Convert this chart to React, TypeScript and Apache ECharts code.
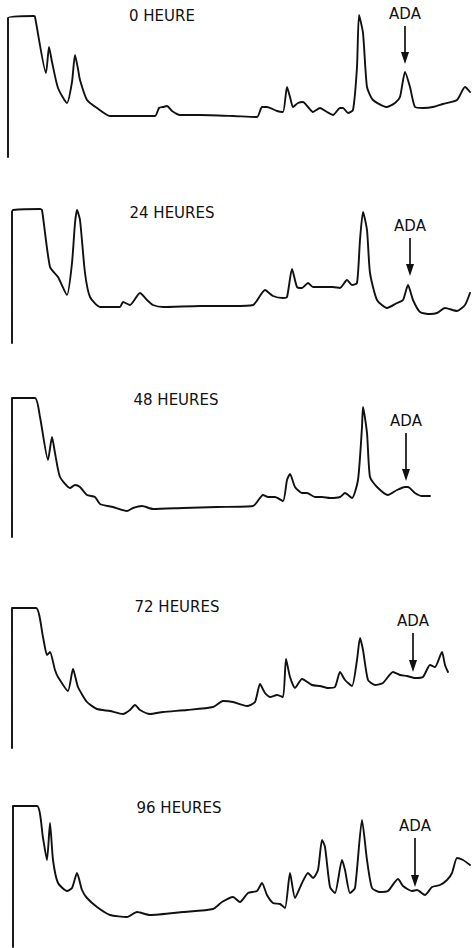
import { useEffect, useRef } from "react";
import * as echarts from "echarts";

type Pt = [number, number];

// Panel labels (sampling time)
const panelLabels = ["0 HEURE", "24 HEURES", "48 HEURES", "72 HEURES", "96 HEURES"];

// Chromatogram traces: [retention (arbitrary units), detector signal (arbitrary units)]
const trace0: Pt[] = [
  [8, 0], [8, 139], [34, 141], [35, 140], [46, 84], [49, 110], [52, 95], [58, 69], [67, 54],
  [72, 75], [75, 102], [78, 88], [80, 77], [87, 57], [97, 49], [110, 41], [123, 41], [155, 41],
  [159, 49], [163, 50], [167, 51], [172, 46], [180, 42], [200, 42], [233, 41], [257, 40], [262, 50],
  [267, 50], [277, 46], [283, 45], [287, 70], [290, 60], [293, 50], [298, 54], [303, 55],
  [308, 50], [313, 45], [320, 49], [327, 45], [333, 42], [340, 49], [343, 49], [348, 44],
  [353, 47], [357, 90], [359, 142], [363, 124], [367, 70], [373, 57], [387, 50], [395, 54],
  [400, 60], [405, 85], [410, 70], [415, 50], [423, 49], [433, 50], [443, 53], [457, 57],
  [465, 70], [470, 65],
];
const trace24: Pt[] = [
  [12, 0], [12, 131], [13, 133], [40, 134], [42, 133], [50, 76], [58, 66], [67, 48], [72, 80],
  [75, 120], [77, 133], [80, 123], [85, 70], [90, 46], [100, 36], [110, 36], [120, 36],
  [123, 41], [130, 38], [140, 50], [147, 43], [153, 38], [163, 36], [200, 37], [233, 37],
  [253, 38], [265, 53], [273, 47], [283, 45], [287, 46], [292, 74], [297, 56], [302, 55],
  [308, 60], [313, 56], [323, 56], [333, 56], [340, 55], [347, 63], [352, 58], [357, 60],
  [360, 103], [363, 131], [367, 113], [370, 70], [377, 43], [387, 35], [397, 40], [403, 43],
  [408, 58], [413, 43], [420, 31], [430, 29], [437, 30], [445, 35], [457, 32], [465, 38],
  [470, 50],
];
const trace48: Pt[] = [
  [12, 0], [12, 139], [35, 139], [40, 120], [48, 77], [52, 100], [55, 84], [60, 60], [70, 49],
  [75, 52], [80, 50], [87, 42], [95, 40], [100, 33], [113, 30], [127, 26], [133, 29],
  [142, 31], [153, 28], [183, 29], [217, 30], [253, 31], [263, 42], [268, 40], [275, 40],
  [283, 36], [287, 57], [290, 63], [295, 50], [302, 44], [307, 44], [315, 40], [322, 40],
  [330, 39], [340, 40], [345, 44], [352, 39], [358, 57], [362, 110], [363, 130], [367, 104],
  [370, 60], [377, 50], [388, 42], [397, 47], [405, 50], [408, 50], [415, 44], [422, 41],
  [430, 41],
];
const trace72: Pt[] = [
  [12, 0], [12, 140], [36, 140], [43, 111], [47, 93], [50, 96], [55, 78], [58, 71], [68, 57],
  [73, 79], [78, 61], [87, 46], [97, 39], [110, 37], [123, 34], [130, 38], [135, 43],
  [140, 38], [150, 34], [163, 36], [187, 38], [213, 41], [223, 47], [233, 46], [247, 42],
  [255, 46], [260, 64], [265, 55], [270, 51], [277, 53], [283, 51], [286, 89], [290, 71],
  [295, 60], [302, 69], [312, 63], [320, 62], [328, 60], [335, 61], [340, 76], [345, 68],
  [352, 62], [357, 88], [360, 110], [363, 98], [368, 68], [375, 63], [383, 65], [393, 76],
  [400, 73], [407, 72], [415, 70], [423, 71], [430, 83], [435, 81], [442, 96], [445, 83],
  [448, 76],
];
const trace96: Pt[] = [
  [13, 0], [13, 141], [37, 141], [43, 109], [47, 87], [50, 124], [53, 87], [58, 64], [67, 56],
  [72, 59], [77, 74], [82, 57], [87, 49], [97, 40], [110, 32], [127, 30], [137, 35], [150, 32],
  [183, 35], [213, 38], [222, 45], [233, 50], [240, 45], [248, 54], [257, 56], [262, 64],
  [267, 52], [273, 44], [280, 43], [285, 39], [290, 74], [295, 49], [302, 64], [308, 74],
  [313, 69], [318, 77], [322, 107], [325, 100], [330, 60], [335, 54], [342, 87], [345, 77],
  [350, 54], [355, 59], [362, 127], [367, 87], [372, 59], [380, 55], [388, 56], [398, 68],
  [403, 61], [412, 56], [417, 57], [425, 52], [432, 60], [440, 62], [447, 67], [452, 74],
  [457, 89], [463, 87], [470, 82],
];
const traces: Pt[][] = [trace0, trace24, trace48, trace72, trace96];

// ADA arrow per panel: [retention, signal at arrow tail, signal at arrow tip]
const adaArrows: [number, number, number][] = [
  [405, 131, 99],
  [410, 105, 73],
  [406, 104, 62],
  [413, 115, 82],
  [415, 109, 66],
];

export default function App() {
  const ref = useRef<HTMLDivElement>(null);

  useEffect(() => {
    if (!ref.current) return;
    const chart = echarts.init(ref.current, undefined, { renderer: "svg" });
    const gridTops = [7, 193, 387, 598, 797];
    const gridH = 150;
    const labelPos: [number, number][] = [
      [162, 16], [172, 213], [176, 400], [177, 607], [179, 808],
    ];
    const ink = "#111111";
    const font = "DejaVu Sans";

    const grid = gridTops.map((t) => ({ left: 0, width: 472, top: t, height: gridH }));
    const xAxis = gridTops.map((_, i) => ({
      type: "value" as const, gridIndex: i, min: 0, max: 472, show: false,
    }));
    const yAxis = gridTops.map((_, i) => ({
      type: "value" as const, gridIndex: i, min: 0, max: gridH, show: false,
    }));
    const series = traces.map((data, i) => {
      const [ax, y0, y1] = adaArrows[i];
      return {
        type: "line" as const,
        xAxisIndex: i,
        yAxisIndex: i,
        data,
        showSymbol: false,
        smooth: 0.2,
        lineStyle: { color: ink, width: 1.9, join: "round", cap: "round" },
        silent: true,
        markLine: {
          silent: true,
          animation: false,
          symbol: ["none", "triangle"],
          symbolSize: [0, 9],
          lineStyle: { color: ink, width: 1.7, type: "solid" },
          label: {
            show: true,
            position: "start",
            formatter: "ADA",
            color: ink,
            fontFamily: font,
            fontSize: 15,
            distance: 5,
          },
          data: [
            [
              { coord: [ax, y0], symbol: "none" },
              { coord: [ax, y1], symbol: "triangle", symbolSize: [8, 12] },
            ],
          ],
        },
      };
    });

    const graphic = panelLabels.map((txt, i) => ({
      type: "text" as const,
      x: labelPos[i][0],
      y: labelPos[i][1],
      style: {
        text: txt,
        fill: ink,
        font: `15px "${font}"`,
        textAlign: "center",
        textVerticalAlign: "middle",
      },
    }));

    chart.setOption({
      animation: false,
      backgroundColor: "#ffffff",
      grid,
      xAxis,
      yAxis,
      series,
      graphic,
    });
    return () => chart.dispose();
  }, []);

  return (
    <div
      ref={ref}
      style={{ position: "fixed", left: 0, top: 0, width: 472, height: 948, background: "#fff" }}
    />
  );
}
